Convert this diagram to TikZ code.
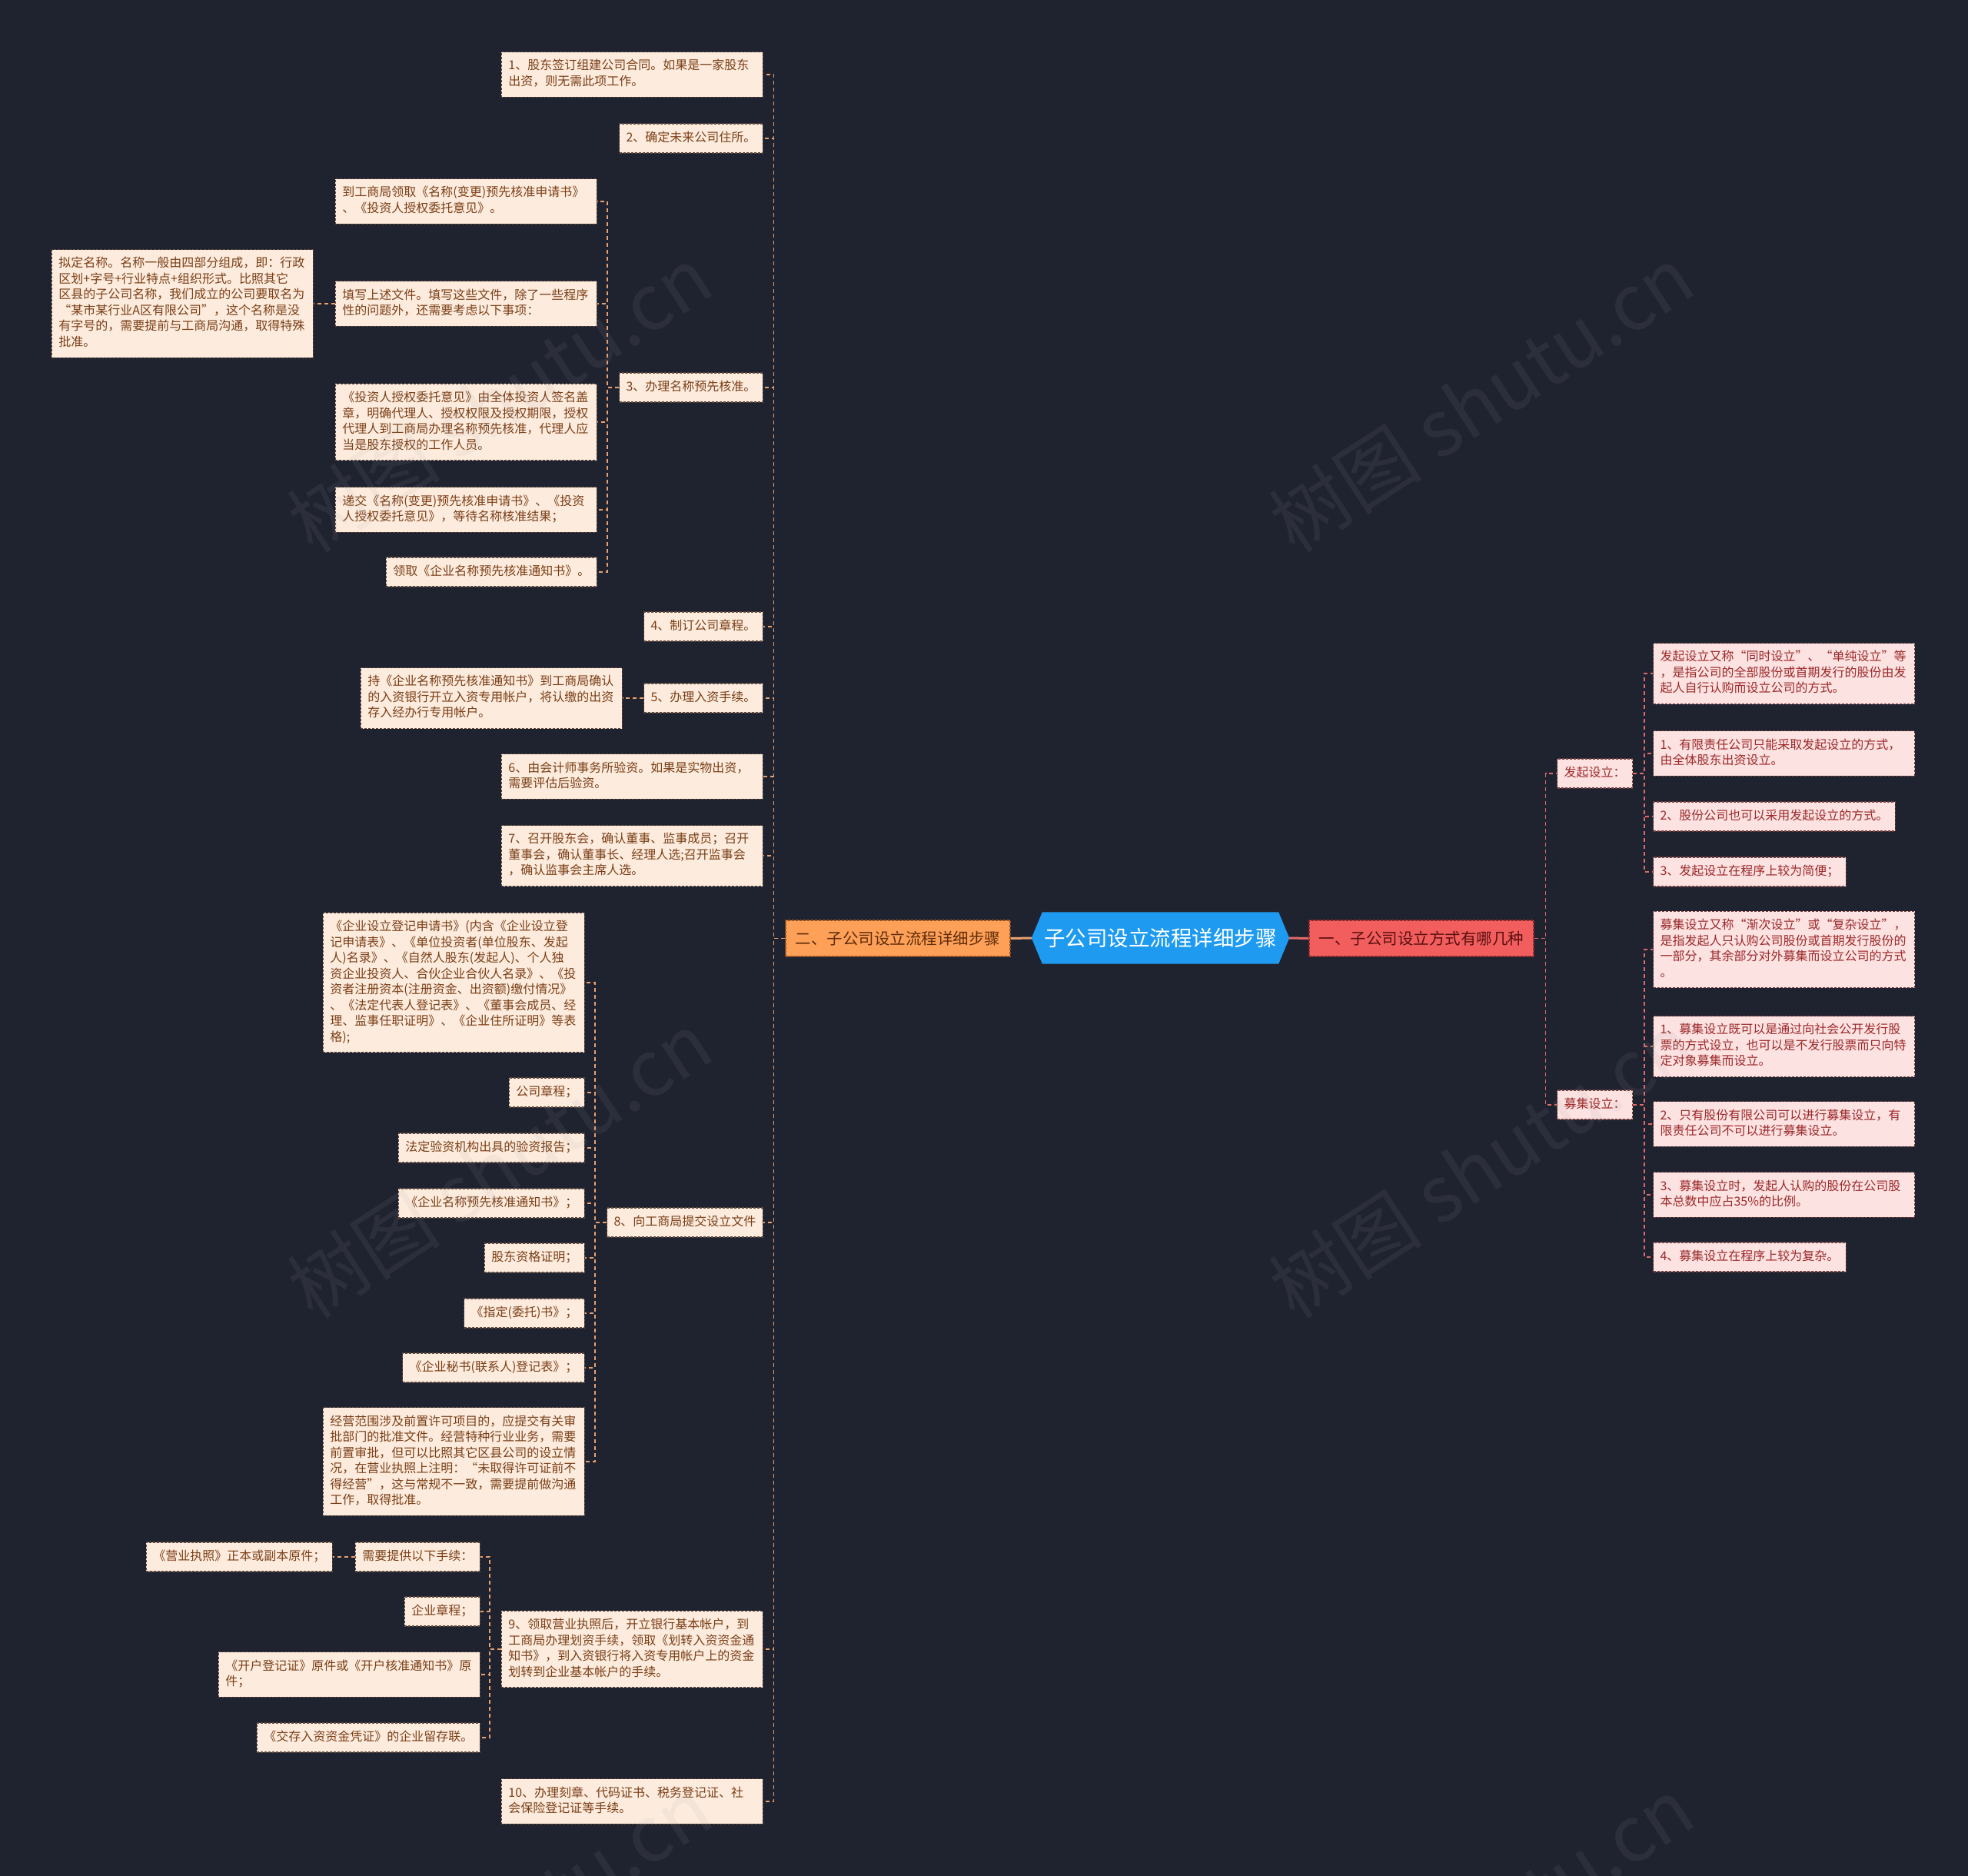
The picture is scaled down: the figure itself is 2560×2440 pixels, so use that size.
\documentclass[tikz,border=0pt]{standalone}
\usepackage{fontspec}
\setmainfont{Noto Sans CJK SC}
\usetikzlibrary{backgrounds}
\definecolor{bg}{RGB}{31,35,48}
\definecolor{lfill}{RGB}{253,236,222}
\definecolor{ltext}{RGB}{122,62,22}
\definecolor{lborder}{RGB}{95,72,60}
\definecolor{lline}{RGB}{232,160,110}
\definecolor{rfill}{RGB}{253,226,226}
\definecolor{rtext}{RGB}{155,40,40}
\definecolor{rborder}{RGB}{115,62,62}
\definecolor{rline}{RGB}{225,105,105}
\definecolor{cblue}{RGB}{30,155,240}
\definecolor{lmain}{RGB}{255,160,88}
\definecolor{lmaintext}{RGB}{95,45,10}
\definecolor{lmainborder}{RGB}{150,80,30}
\definecolor{rmain}{RGB}{242,94,94}
\definecolor{rmaintext}{RGB}{90,15,15}
\definecolor{rmainborder}{RGB}{140,40,40}
\definecolor{wmgray}{RGB}{160,160,160}
\newcommand\fsmall{\fontsize{16pt}{20.5pt}\selectfont}
\newcommand\fmain{\fontsize{20.5pt}{26pt}\selectfont}
\newcommand\fcenter{\fontsize{27.5pt}{32pt}\selectfont}
\newcommand\mystrut{\rule[-6pt]{0pt}{20.5pt}}
\tikzset{
 boxbase/.style={dash pattern=on 3pt off 2pt, line width=1.1pt, font=\fsmall, align=left,
   inner xsep=9pt, inner ysep=8.75pt, execute at begin node=\mystrut, execute at end node=\mystrut},
 lbox/.style={boxbase, draw=lborder, fill=lfill, text=ltext, anchor=east},
 lwide/.style={lbox, text width=322pt},
 rbox/.style={boxbase, draw=rborder, fill=rfill, text=rtext, anchor=west},
 rwide/.style={rbox, text width=322pt},
 lconn/.style={draw=lline, line width=1.5pt, dash pattern=on 5pt off 4pt},
 rconn/.style={draw=rline, line width=1.5pt, dash pattern=on 5pt off 4pt},
 mainbox/.style={font=\fmain, minimum width=292pt, minimum height=47pt, inner sep=0pt,
   dash pattern=on 3pt off 2pt, line width=1.1pt},
 wmark/.style={font=\fontsize{100pt}{110pt}\selectfont, text=wmgray, opacity=0.1, rotate=33}
}
\begin{document}
\begin{tikzpicture}[x=1pt,y=-1pt]
\useasboundingbox (0,0) rectangle (2560,2440);
\begin{scope}[on background layer]
\fill[bg] (0,0) rectangle (2560,2440);
\end{scope}

% centre and main branches
\node[font=\fcenter, text=white, minimum width=307pt, minimum height=67pt, inner sep=0pt] (C) at (1509.5,1220) {子公司设立流程详细步骤};
\coordinate (Cl) at ([xshift=-14pt]C.west);
\coordinate (Cr) at ([xshift=14pt]C.east);
\begin{scope}[on background layer]
\fill[cblue] (Cl) -- (C.north west) -- (C.north east) -- (Cr) -- (C.south east) -- (C.south west) -- cycle;
\end{scope}
\node[mainbox, fill=lmain, draw=lmainborder, text=lmaintext] (L) at (1168,1220.5) {二、子公司设立流程详细步骤};
\node[mainbox, fill=rmain, draw=rmainborder, text=rmaintext] (R) at (1849,1220.5) {一、子公司设立方式有哪几种};
\draw[line width=3pt, color=lline] (Cl) -- (L.east);
\draw[line width=3pt, color=rline] (Cr) -- (R.west);

% left level 1
\node[lwide] (i1) at (993,97) {1、股东签订组建公司合同。如果是一家股东\\出资，则无需此项工作。};
\node[lbox] (i2) at (993,180) {2、确定未来公司住所。};
\node[lbox] (i3) at (993,504) {3、办理名称预先核准。};
\node[lbox] (i4) at (993,815) {4、制订公司章程。};
\node[lbox] (i5) at (993,908) {5、办理入资手续。};
\node[lwide] (i6) at (993,1010) {6、由会计师事务所验资。如果是实物出资，\\需要评估后验资。};
\node[lwide] (i7) at (993,1113) {7、召开股东会，确认董事、监事成员；召开\\董事会，确认董事长、经理人选;召开监事会\\，确认监事会主席人选。};
\node[lbox] (i8) at (993,1590) {8、向工商局提交设立文件};
\node[lwide] (i9) at (993,2145) {9、领取营业执照后，开立银行基本帐户，到\\工商局办理划资手续，领取《划转入资资金通\\知书》，到入资银行将入资专用帐户上的资金\\划转到企业基本帐户的手续。};
\node[lwide] (i10) at (993,2343) {10、办理刻章、代码证书、税务登记证、社\\会保险登记证等手续。};

% children of 3
\node[lwide] (a3a) at (777,262) {到工商局领取《名称(变更)预先核准申请书》\\、《投资人授权委托意见》。};
\node[lwide] (a3b) at (777,395) {填写上述文件。填写这些文件，除了一些程序\\性的问题外，还需要考虑以下事项：};
\node[lwide] (a3b1) at (408,395) {拟定名称。名称一般由四部分组成，即：行政\\区划+字号+行业特点+组织形式。比照其它\\区县的子公司名称，我们成立的公司要取名为\\“某市某行业A区有限公司”，这个名称是没\\有字号的，需要提前与工商局沟通，取得特殊\\批准。};
\node[lwide] (a3c) at (777,549) {《投资人授权委托意见》由全体投资人签名盖\\章，明确代理人、授权权限及授权期限，授权\\代理人到工商局办理名称预先核准，代理人应\\当是股东授权的工作人员。};
\node[lwide] (a3d) at (777,663) {递交《名称(变更)预先核准申请书》、《投资\\人授权委托意见》，等待名称核准结果；};
\node[lbox] (a3e) at (777,744) {领取《企业名称预先核准通知书》。};

% child of 5
\node[lwide] (a5) at (810,908) {持《企业名称预先核准通知书》到工商局确认\\的入资银行开立入资专用帐户，将认缴的出资\\存入经办行专用帐户。};

% children of 8
\node[lwide] (a8a) at (761,1278) {《企业设立登记申请书》(内含《企业设立登\\记申请表》、《单位投资者(单位股东、发起\\人)名录》、《自然人股东(发起人)、个人独\\资企业投资人、合伙企业合伙人名录》、《投\\资者注册资本(注册资金、出资额)缴付情况》\\、《法定代表人登记表》、《董事会成员、经\\理、监事任职证明》、《企业住所证明》等表\\格);};
\node[lbox] (a8b) at (761,1421) {公司章程；};
\node[lbox] (a8c) at (761,1493) {法定验资机构出具的验资报告；};
\node[lbox] (a8d) at (761,1565) {《企业名称预先核准通知书》；};
\node[lbox] (a8e) at (761,1636) {股东资格证明；};
\node[lbox] (a8f) at (761,1708) {《指定(委托)书》；};
\node[lbox] (a8g) at (761,1779) {《企业秘书(联系人)登记表》；};
\node[lwide] (a8h) at (761,1901) {经营范围涉及前置许可项目的，应提交有关审\\批部门的批准文件。经营特种行业业务，需要\\前置审批，但可以比照其它区县公司的设立情\\况，在营业执照上注明：“未取得许可证前不\\得经营”，这与常规不一致，需要提前做沟通\\工作，取得批准。};

% children of 9
\node[lbox] (a9a) at (625,2025) {需要提供以下手续：};
\node[lbox] (a9a1) at (433,2025) {《营业执照》正本或副本原件；};
\node[lbox] (a9b) at (625,2096) {企业章程；};
\node[lwide] (a9c) at (625,2178) {《开户登记证》原件或《开户核准通知书》原\\件；};
\node[lbox] (a9d) at (625,2260) {《交存入资资金凭证》的企业留存联。};

% right side
\node[rbox] (R1) at (2025,1006) {发起设立：};
\node[rbox] (R2) at (2025,1437) {募集设立：};
\node[rwide] (r1a) at (2150,876) {发起设立又称“同时设立”、“单纯设立”等\\，是指公司的全部股份或首期发行的股份由发\\起人自行认购而设立公司的方式。};
\node[rwide] (r1b) at (2150,980) {1、有限责任公司只能采取发起设立的方式，\\由全体股东出资设立。};
\node[rbox] (r1c) at (2150,1062) {2、股份公司也可以采用发起设立的方式。};
\node[rbox] (r1d) at (2150,1134) {3、发起设立在程序上较为简便；};
\node[rwide] (r2a) at (2150,1235) {募集设立又称“渐次设立”或“复杂设立”，\\是指发起人只认购公司股份或首期发行股份的\\一部分，其余部分对外募集而设立公司的方式\\。};
\node[rwide] (r2b) at (2150,1361) {1、募集设立既可以是通过向社会公开发行股\\票的方式设立，也可以是不发行股票而只向特\\定对象募集而设立。};
\node[rwide] (r2c) at (2150,1462) {2、只有股份有限公司可以进行募集设立，有\\限责任公司不可以进行募集设立。};
\node[rwide] (r2d) at (2150,1554) {3、募集设立时，发起人认购的股份在公司股\\本总数中应占35\%的比例。};
\node[rbox] (r2e) at (2150,1635) {4、募集设立在程序上较为复杂。};

% connectors
\foreach \n in {i1,i2,i3,i4,i5,i6,i7,i8,i9,i10}
  \draw[lconn] (L.west) -- ++(-15,0) |- (\n.east);
\foreach \n in {a3a,a3b,a3c,a3d,a3e}
  \draw[lconn] (i3.west) -- ++(-15,0) |- (\n.east);
\draw[lconn] (a3b.west) -- (a3b1.east);
\draw[lconn] (i5.west) -- (a5.east);
\foreach \n in {a8a,a8b,a8c,a8d,a8e,a8f,a8g,a8h}
  \draw[lconn] (i8.west) -- ++(-15,0) |- (\n.east);
\foreach \n in {a9a,a9b,a9c,a9d}
  \draw[lconn] (i9.west) -- ++(-15,0) |- (\n.east);
\draw[lconn] (a9a.west) -- (a9a1.east);
\foreach \n in {R1,R2}
  \draw[rconn] (R.east) -- ++(15,0) |- (\n.west);
\foreach \n in {r1a,r1b,r1c,r1d}
  \draw[rconn] (R1.east) -- ++(15,0) |- (\n.west);
\foreach \n in {r2a,r2b,r2c,r2d,r2e}
  \draw[rconn] (R2.east) -- ++(15,0) |- (\n.west);

% watermark
\begin{scope}
\clip (0,0) rectangle (2560,2440);
\node[wmark] (wm1) at (650,519) {树图 shutu.cn};
\node[wmark] (wm2) at (1927,519) {树图 shutu.cn};
\node[wmark] (wm3) at (650,1515) {树图 shutu.cn};
\node[wmark] (wm4) at (1927,1515) {树图 shutu.cn};
\node[wmark] (wm5) at (650,2511) {树图 shutu.cn};
\node[wmark] (wm6) at (1927,2511) {树图 shutu.cn};
\end{scope}
\end{tikzpicture}
\end{document}
